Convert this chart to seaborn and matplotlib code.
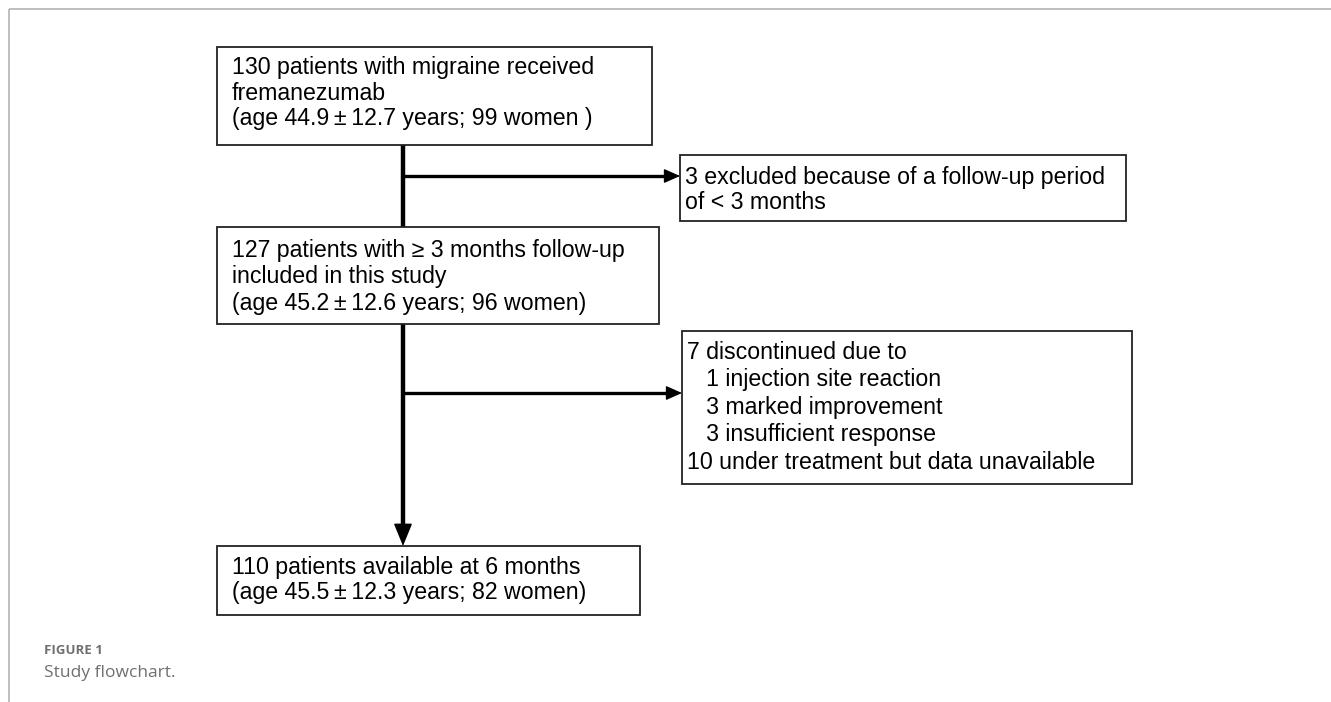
import matplotlib
matplotlib.use("Agg")
import matplotlib.pyplot as plt
import seaborn as sns
from matplotlib.patches import Rectangle, FancyArrowPatch

sns.set_theme(style="white")
plt.rcParams['font.family'] = ['Liberation Sans', 'DejaVu Sans']

PM = "\u2009\u00b1\u2009"
box1_lines = ["130 patients with migraine received", "fremanezumab",
              "(age 44.9" + PM + "12.7 years; 99 women )"]
box2_lines = ["127 patients with \u2265 3 months follow-up", "included in this study",
              "(age 45.2" + PM + "12.6 years; 96 women)"]
box3_lines = ["3 excluded because of a follow-up period", "of < 3 months"]
box4_lines = ["7 discontinued due to", "   1 injection site reaction", "   3 marked improvement",
              "   3 insufficient response", "10 under treatment but data unavailable"]
box5_lines = ["110 patients available at 6 months", "(age 45.5" + PM + "12.3 years; 82 women)"]
caption_label = "FIGURE 1"
caption_text = "Study flowchart."

W, H = 1331, 702
fig = plt.figure(figsize=(W / 100, H / 100), dpi=100)
ax = fig.add_axes([0, 0, 1, 1])
ax.set_xlim(0, W)
ax.set_ylim(H, 0)
ax.axis("off")

# frame lines
ax.plot([9, 9], [H, 9], color="#b3b3b3", lw=1.2, solid_capstyle="butt")
ax.plot([9, W], [9, 9], color="#b3b3b3", lw=1.2, solid_capstyle="butt")

FS = 16.7
# boxes: (x0, y0, x1, y1, text_x, line_ys, lines)
boxes = [
    (217, 47, 652, 145, 232, [67, 93, 118], box1_lines),
    (217, 227, 659, 324, 232, [250, 276, 303], box2_lines),
    (680, 155, 1126, 221, 685, [177, 202], box3_lines),
    (682, 331, 1132, 484, 687, [352, 379, 407, 434, 462], box4_lines),
    (217, 546, 640, 615, 232, [567, 592], box5_lines),
]
for x0, y0, x1, y1, tx, ys, lines in boxes:
    ax.add_patch(Rectangle((x0, y0), x1 - x0, y1 - y0, fill=False,
                           edgecolor="#222222", lw=1.3, zorder=3))
    for y, s in zip(ys, lines):
        ax.text(tx, y + 7, s, fontsize=FS, color="black", ha="left", va="baseline", zorder=4)

VX = 403
# vertical connectors
ax.plot([VX, VX], [145, 227], color="black", lw=3.2, solid_capstyle="butt", zorder=2)
ax.plot([VX, VX], [324, 532], color="black", lw=3.2, solid_capstyle="butt", zorder=2)
ax.add_patch(FancyArrowPatch((VX, 525), (VX, 546), arrowstyle="-|>,head_length=1.1,head_width=0.45",
                             mutation_scale=13, color="black", lw=1.0, shrinkA=0, shrinkB=0, zorder=2))
# horizontal arrows
for y, xe in [(176, 680), (393, 682)]:
    ax.plot([VX, xe - 8], [y, y], color="black", lw=2.4, solid_capstyle="butt", zorder=2)
    ax.add_patch(FancyArrowPatch((xe - 12, y), (xe, y), arrowstyle="-|>,head_length=0.9,head_width=0.4",
                                 mutation_scale=11, color="black", lw=1.0, shrinkA=0, shrinkB=0, zorder=2))

ax.text(44, 654, caption_label, fontsize=9.5, fontweight="bold", color="#707070",
        family=["Open Sans", "DejaVu Sans"], ha="left", va="baseline")
ax.text(44, 677, caption_text, fontsize=12.5, color="#707070",
        family=["Open Sans", "DejaVu Sans"], ha="left", va="baseline")

fig.savefig("out.png", dpi=100, facecolor="white")
